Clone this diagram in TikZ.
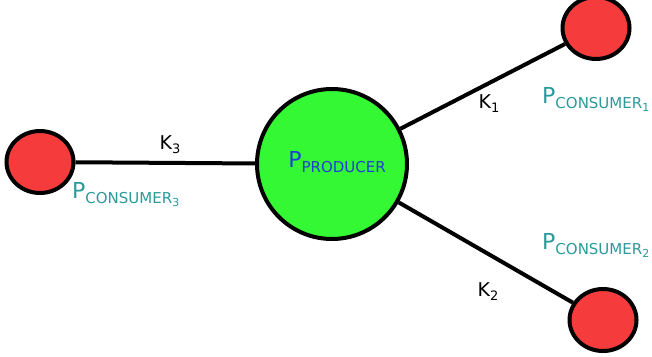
\documentclass[tikz,border=0pt]{standalone}
\usepackage{fontspec}
\setmainfont{DejaVu Sans}
\usetikzlibrary{shapes.geometric}
\definecolor{prodgreen}{HTML}{33F833}
\definecolor{consred}{HTML}{F53B3B}
\definecolor{tealtxt}{HTML}{2A9A9A}
\definecolor{bluetxt}{HTML}{1E3FD8}
\newcommand{\plabel}[1]{{\fontsize{22}{26}\selectfont P}\raisebox{-5pt}{\fontsize{15}{18}\selectfont #1}}
\newcommand{\ssub}[1]{\raisebox{-3pt}{\fontsize{11}{13}\selectfont #1}}
\newcommand{\klabel}[1]{{\fontsize{19}{22}\selectfont K}\raisebox{-4pt}{\fontsize{13}{15}\selectfont #1}}
\begin{document}
\begin{tikzpicture}[x=1pt,y=-1pt,
  cons/.style={ellipse,draw=black,line width=4pt,fill=consred,minimum width=67pt,minimum height=62pt,inner sep=0pt},
  prod/.style={circle,draw=black,line width=4pt,fill=prodgreen,minimum size=150pt,inner sep=0pt},
  link/.style={line width=4pt,black},
  ctext/.style={text=tealtxt,inner sep=0pt,anchor=west},
  ktext/.style={text=black,inner sep=0pt}]
\useasboundingbox (0,0) rectangle (652,356);
\node[prod] (p) at (332,164) {};
\node[cons] (c1) at (596,28) {};
\node[cons] (c2) at (603,320) {};
\node[cons] (c3) at (40,162) {};
\draw[link] (c3) -- (p);
\draw[link] (p) -- (c1);
\draw[link] (p) -- (c2);
\node[text=bluetxt,inner sep=0pt] (pl) at (337,162) {\plabel{PRODUCER}};
\node[ctext] (l1) at (542,99) {\plabel{CONSUMER\ssub{1}}};
\node[ctext] (l2) at (542,245) {\plabel{CONSUMER\ssub{2}}};
\node[ctext] (l3) at (72,195) {\plabel{CONSUMER\ssub{3}}};
\node[ktext] (k1) at (489,104) {\klabel{1}};
\node[ktext] (k2) at (488,292) {\klabel{2}};
\node[ktext] (k3) at (170,145) {\klabel{3}};
\end{tikzpicture}
\end{document}
